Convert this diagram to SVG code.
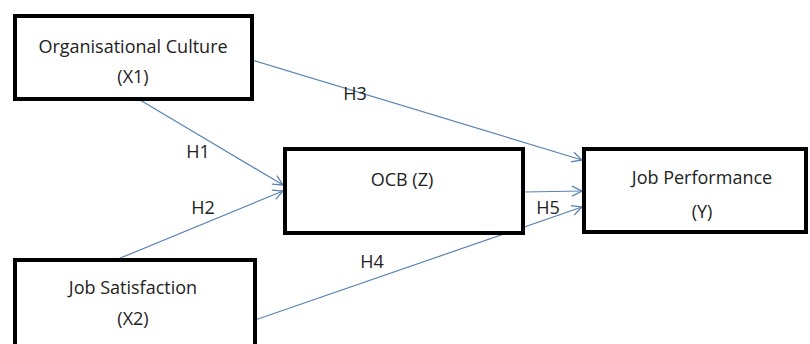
<svg xmlns="http://www.w3.org/2000/svg" width="810" height="344" viewBox="0 0 810 344">
<defs>
<style>
.box{fill:#fff;stroke:#000;stroke-width:4}
.t{font-family:"Open Sans","Liberation Sans",sans-serif;font-size:18px;fill:#222;text-anchor:middle}
.c{stroke:#5b84b1;stroke-width:1.2;fill:none;marker-end:url(#ah)}
</style>
<marker id="ah" viewBox="0 0 12 12" refX="11" refY="6" markerWidth="12" markerHeight="12" markerUnits="userSpaceOnUse" orient="auto">
<path d="M1,1 L11,6 L1,11" fill="none" stroke="#5b84b1" stroke-width="1.3"/>
</marker>
</defs>
<rect width="810" height="344" fill="#fff"/>
<g id="connectors">
<line class="c" x1="252" y1="60" x2="582" y2="160"/>
<line class="c" x1="140" y1="100" x2="283" y2="185"/>
<line class="c" x1="118" y1="259" x2="283" y2="191"/>
<line class="c" x1="523" y1="192" x2="582" y2="191"/>
<line class="c" x1="255" y1="320" x2="582" y2="207"/>
<text class="t" x="355" y="100">H3</text>
<text class="t" x="198" y="158">H1</text>
<text class="t" x="203" y="214">H2</text>
<text class="t" x="548" y="214">H5</text>
<text class="t" x="372" y="268">H4</text>
</g>
<g id="x1">
<rect class="box" x="15" y="16" width="237" height="83"/>
<text class="t" x="133" y="53">Organisational Culture</text>
<text class="t" x="133" y="83">(X1)</text>
</g>
<g id="z">
<rect class="box" x="285" y="149" width="238" height="84"/>
<text class="t" x="402" y="186">OCB (Z)</text>
</g>
<g id="y">
<rect class="box" x="584" y="149" width="222" height="83"/>
<text class="t" x="702" y="184">Job Performance</text>
<text class="t" x="702" y="218">(Y)</text>
</g>
<g id="x2">
<rect class="box" x="15" y="260" width="240" height="90"/>
<text class="t" x="133" y="294">Job Satisfaction</text>
<text class="t" x="133" y="325">(X2)</text>
</g>
</svg>
